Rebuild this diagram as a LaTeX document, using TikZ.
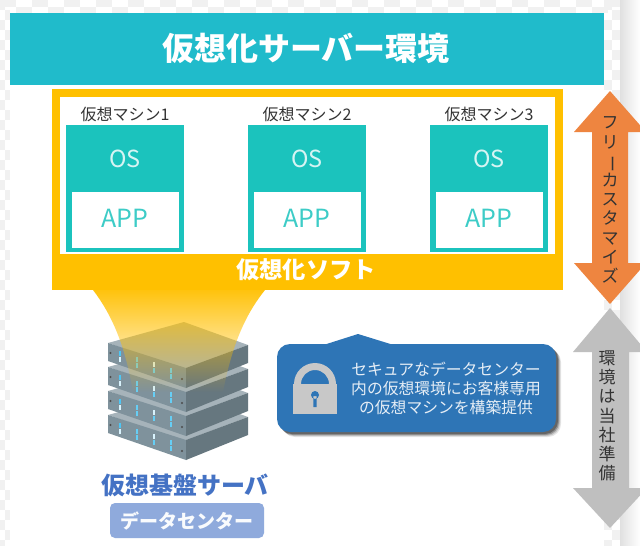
\documentclass[tikz,border=0pt]{standalone}
\usepackage{fontspec}
\setmainfont{Noto Sans CJK JP}
\usetikzlibrary{fadings}
\definecolor{hdr}{HTML}{20BBCB}
\definecolor{ylw}{HTML}{FFC000}
\definecolor{teal}{HTML}{1BC3BD}
\definecolor{org}{HTML}{EE8540}
\definecolor{gry}{HTML}{BFBFBF}
\definecolor{blu}{HTML}{2E75B6}
\definecolor{ttl}{HTML}{4472C4}
\definecolor{pill}{HTML}{8FAADC}
\definecolor{chk}{HTML}{F1F1F1}
\definecolor{srvtop}{HTML}{90A0A9}
\definecolor{srvfront}{HTML}{7F929C}
\definecolor{srvside}{HTML}{66777F}
\definecolor{lock}{HTML}{C8C8C8}
\tikzfading[name=beamfade,top color=transparent!5,bottom color=transparent!100]
\tikzset{
  x=1pt,y=-1pt,
  txt/.style={inner sep=0pt,outer sep=0pt,align=center},
  vmlabel/.style={txt,text=black!80,font=\fontsize{16}{18}\selectfont},
  ostext/.style={txt,text=white!82!teal,font=\fontsize{23.5}{26}\selectfont},
  apptext/.style={txt,text=teal!85!white,font=\fontsize{25}{28}\selectfont},
  vtext/.style={txt,text=black!80,font=\fontsize{17}{19.2}\selectfont},
}
\newcommand{\vbar}{\rotatebox[origin=c]{-90}{ー}}
\begin{document}
\begin{tikzpicture}
\useasboundingbox (0,0) rectangle (640,546);
\fill[white] (0,0) rectangle (640,546);
% checker margin
\foreach \i in {0,...,39}{\foreach \j in {0,1}{
  \pgfmathparse{int(mod(\i+\j,2))}\ifnum\pgfmathresult=0
  \fill[chk] (\i*16,\j*6.5) rectangle ++(16,6.5);\fi}}
\foreach \j in {0,...,54}{
  \pgfmathparse{int(mod(\j,2))}\ifnum\pgfmathresult=0
  \fill[chk] (0,\j*10) rectangle ++(5,10);
  \fill[chk] (604,\j*10) rectangle ++(8,10);
  \else
  \fill[chk] (5,\j*10) rectangle ++(5,10);
  \fill[chk] (612,\j*10) rectangle ++(8,10);
  \fi}
\shade[left color=black!12,right color=white] (620,0) rectangle (640,546);
\fill[white] (10,85) rectangle (604,546);
% header
\fill[hdr] (10,13) rectangle (604,85);
\node[txt,text=white,font=\bfseries\fontsize{32}{36}\selectfont] (title) at (306,48) {仮想化サーバー環境};
% hypervisor frame
\fill[ylw] (52,89) rectangle (563,290);
\fill[white] (60,97) rectangle (555,254);
\node[txt,text=white,font=\bfseries\fontsize{23.3}{26}\selectfont] (soft) at (306,270) {仮想化ソフト};
% VMs
\foreach \x/\n in {66/1,248/2,430/3}{
  \fill[teal] (\x,125) rectangle (\x+118,252);
  \fill[white] (\x+6,192) rectangle (\x+112.5,248);
  \node[vmlabel] (vm\n) at (\x+59,114) {仮想マシン\n};
  \node[ostext] (os\n) at (\x+59,159) {OS};
  \node[apptext] (app\n) at (\x+59,218) {APP};
}
% server stack
\foreach \d in {72,48,24,0}{
  \begin{scope}[yshift=-\d pt]
    \fill[srvtop!80!white] (108,343) -- (184,322) -- (248,345) -- (184,369) -- cycle;
    \fill[srvfront] (108,343) -- (186,368) -- (186,388) -- (108,361) -- cycle;
    \fill[srvside] (186,368) -- (248,345) -- (248,363) -- (186,388) -- cycle;
    \fill[black!70] (110.5,353) circle (1.2) (182,379) circle (1.2);
    \foreach \lx/\ly/\ca/\cb in {120/353/cyan!70/cyan!15,137/359/cyan!60/cyan!60,154/364/cyan!15/cyan!60,171/370/cyan!60/cyan!60}{
      \fill[\ca] (\lx-1.3,\ly-2.5) rectangle (\lx+1.3,\ly+2.5);
      \fill[\cb] (\lx-1.3,\ly+4) rectangle (\lx+1.3,\ly+9);
    }
  \end{scope}
}
% light beam
\fill[ylw,path fading=beamfade] (93,290) .. controls (112,315) and (125,345) .. (133,392)
  -- (223,392) .. controls (232,345) and (245,315) .. (265,290) -- cycle;
% callout
\foreach \o/\a in {5/0.10,4/0.15,3/0.25,2/0.3}{
  \fill[black,opacity=\a,rounded corners=13pt] (277+\o,344+\o) rectangle (556+\o,432+\o);
}
\fill[blu,rounded corners=13pt] (277,344) rectangle (556,432);
\fill[blu] (325,344.5) -- (358,334) -- (392,344.5) -- cycle;
\fill[lock] (293,384) rectangle (337,414);
\fill[lock] (294,384) arc[start angle=180,end angle=360,radius=21] -- (329,384) arc[start angle=360,end angle=180,radius=14] -- cycle;
\fill[blu] (315,395) circle (4) (313.3,396) rectangle (316.7,407);
\node[txt,text=white!88!blu,font=\fontsize{15.8}{19}\selectfont] (secure) at (446,388)
  {セキュアなデータセンター\\内の仮想環境にお客様専用\\の仮想マシンを構築提供};
% server labels
\node[txt,text=ttl,font=\bfseries\fontsize{24}{28}\selectfont] (host) at (185,485) {仮想基盤サーバ};
\node[fill=pill,rounded corners=5pt,minimum width=154pt,minimum height=35pt,inner sep=0pt,text=white!95!pill,font=\bfseries\fontsize{19}{22}\selectfont] (dc) at (187,520.5) {データセンター};
% arrows
\fill[org] (610,91) -- (646,132) -- (628,132) -- (628,263) -- (646,263) -- (610,304) -- (574,263) -- (592,263) -- (592,132) -- (574,132) -- cycle;
\fill[gry] (610,308) -- (647,352) -- (629,352) -- (629,488) -- (647,488) -- (610,528) -- (573,488) -- (592,488) -- (592,352) -- (573,352) -- cycle;
\node[vtext] (free) at (610,200) {フ\\リ\\\vbar\\カ\\ス\\タ\\マ\\イ\\ズ};
\node[vtext] (env) at (607,416) {環\\境\\は\\当\\社\\準\\備};
\end{tikzpicture}
\end{document}
